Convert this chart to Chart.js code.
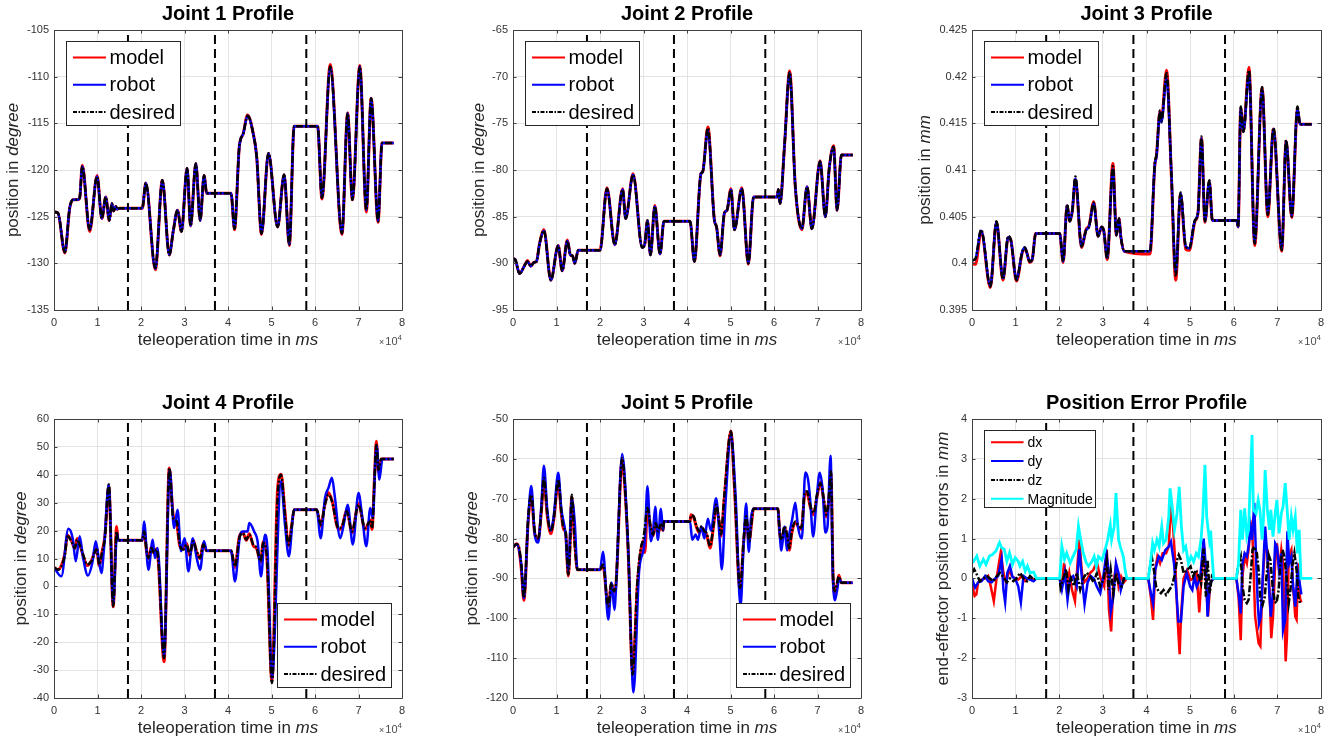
<!DOCTYPE html>
<html>
<head>
<meta charset="utf-8">
<title>Joint profiles</title>
<script src="https://cdn.jsdelivr.net/npm/chart.js@4.4.1/dist/chart.umd.min.js"></script>
<style>
  body { margin: 0; background: #fff; width: 1335px; height: 745px; position: relative; overflow: hidden; }
  canvas { position: absolute; }
</style>
</head>
<body>
<canvas id="p1"></canvas>
<canvas id="p2"></canvas>
<canvas id="p3"></canvas>
<canvas id="p4"></canvas>
<canvas id="p5"></canvas>
<canvas id="p6"></canvas>
<script>
// all times are in units of 10^4 ms (the axis shows x10^4)
const phaseBounds = [1.7, 3.7, 5.8];
const xTickLabels = ['0', '1', '2', '3', '4', '5', '6', '7', '8'];

// ---- Joint 1
const j1YTicks = ['-135', '-130', '-125', '-120', '-115', '-110', '-105'];
const j1T = [0, 0.09, 0.25, 0.36, 0.44, 0.53, 0.59, 0.65, 0.82, 0.99,
  1.10, 1.19, 1.27, 1.33, 1.37, 1.42, 1.45, 1.50, 2.03, 2.11,
  2.33, 2.49, 2.65, 2.74, 2.84, 2.93, 3.06, 3.14, 3.26, 3.36,
  3.45, 3.51, 4.07, 4.15, 4.26, 4.35, 4.45, 4.58, 4.66, 4.77,
  4.93, 5.14, 5.29, 5.41, 5.52, 6.06, 6.16, 6.35, 6.62, 6.75,
  6.86, 7.03, 7.18, 7.29, 7.45, 7.54, 7.81];
const j1Desired = [-124.5, -124.6, -128.8, -124.1, -123.2, -123.2, -123.0, -119.6, -126.4, -120.7,
  -125.2, -122.9, -125.4, -123.6, -124.4, -123.9, -124.2, -124.1, -124.1, -121.4,
  -130.5, -121.1, -129.1, -126.6, -124.3, -126.6, -119.8, -126.0, -119.3, -125.4,
  -120.6, -122.5, -122.5, -126.3, -117.5, -116.1, -114.2, -116.1, -118.6, -126.8,
  -118.2, -126.1, -120.5, -128.0, -115.3, -115.3, -123.0, -108.9, -126.8, -113.9,
  -123.2, -108.9, -124.3, -112.3, -125.5, -117.1, -117.1];
const j1Model = [-124.5, -124.6, -128.9, -124.1, -123.2, -123.2, -123.0, -119.5, -126.6, -120.6,
  -125.2, -122.9, -125.4, -123.6, -124.4, -123.9, -124.2, -124.1, -124.1, -121.4,
  -130.7, -121.1, -129.1, -126.6, -124.3, -126.6, -119.8, -126.0, -119.3, -125.4,
  -120.6, -122.5, -122.5, -126.4, -117.5, -116.1, -114.1, -116.1, -118.6, -126.9,
  -118.2, -126.1, -120.5, -128.1, -115.3, -115.3, -123.1, -108.7, -126.9, -113.9,
  -123.2, -108.8, -124.5, -112.3, -125.6, -117.1, -117.1];
const j1Robot = [-124.5, -124.6, -128.8, -124.1, -123.2, -123.2, -123.0, -119.6, -126.4, -120.7,
  -125.2, -122.9, -125.4, -123.6, -124.4, -123.9, -124.2, -124.1, -124.1, -121.4,
  -130.6, -121.1, -129.1, -126.6, -124.3, -126.6, -119.8, -126.0, -119.3, -125.4,
  -120.6, -122.5, -122.5, -126.3, -117.5, -116.1, -114.2, -116.1, -118.6, -126.8,
  -118.2, -126.1, -120.5, -128.0, -115.3, -115.3, -123.0, -109.0, -126.8, -113.9,
  -123.2, -108.9, -124.3, -112.3, -125.5, -117.1, -117.1];

// ---- Joint 2
const j2YTicks = ['-95', '-90', '-85', '-80', '-75', '-70', '-65'];
const j2T = [0, 0.05, 0.15, 0.27, 0.33, 0.41, 0.48, 0.54, 0.61, 0.71,
  0.87, 1.04, 1.13, 1.25, 1.32, 1.37, 1.42, 1.50, 2.00, 2.16,
  2.34, 2.52, 2.59, 2.76, 2.97, 3.03, 3.09, 3.16, 3.26, 3.38,
  3.47, 4.07, 4.17, 4.32, 4.36, 4.48, 4.63, 4.68, 4.76, 4.86,
  4.92, 5.01, 5.09, 5.26, 5.41, 5.53, 6.07, 6.10, 6.14, 6.24,
  6.36, 6.49, 6.64, 6.76, 6.87, 7.06, 7.18, 7.27, 7.37, 7.45,
  7.55, 7.81];
const j2Desired = [-89.5, -89.6, -91.1, -90.2, -89.8, -90.3, -89.9, -89.8, -87.9, -86.5,
  -91.8, -88.1, -90.8, -87.6, -89.1, -89.2, -90.0, -88.6, -88.6, -82.0,
  -88.0, -82.1, -85.2, -80.5, -88.3, -87.9, -85.4, -89.1, -83.9, -89.0,
  -85.5, -85.5, -89.8, -80.4, -80.2, -75.5, -85.4, -86.1, -89.1, -84.6,
  -84.3, -82.1, -86.4, -82.0, -90.0, -82.9, -82.9, -82.1, -83.6, -77.5,
  -69.5, -81.8, -86.3, -81.8, -86.3, -79.1, -85.0, -79.8, -77.5, -84.3,
  -78.4, -78.4];
const j2Model = [-89.5, -89.6, -91.1, -90.2, -89.7, -90.3, -89.9, -89.8, -87.9, -86.4,
  -91.8, -88.1, -90.8, -87.5, -89.1, -89.2, -90.0, -88.6, -88.6, -81.9,
  -88.0, -82.0, -85.2, -80.4, -88.3, -87.9, -85.4, -89.1, -83.8, -89.0,
  -85.5, -85.5, -89.8, -80.4, -80.2, -75.4, -85.4, -86.1, -89.2, -84.6,
  -84.3, -82.0, -86.4, -81.9, -90.1, -82.9, -82.9, -82.1, -83.6, -77.5,
  -69.4, -81.8, -86.4, -81.8, -86.3, -79.0, -85.0, -79.8, -77.4, -84.3,
  -78.4, -78.4];
const j2Robot = [-89.5, -89.6, -91.1, -90.2, -89.8, -90.3, -89.9, -89.8, -87.9, -86.5,
  -91.8, -88.1, -90.8, -87.6, -89.1, -89.2, -90.0, -88.6, -88.6, -82.0,
  -88.0, -82.1, -85.2, -80.5, -88.3, -87.9, -85.4, -89.1, -83.9, -89.0,
  -85.5, -85.5, -89.8, -80.4, -80.2, -75.8, -85.4, -86.1, -89.1, -84.6,
  -84.3, -82.1, -86.4, -82.0, -90.0, -82.9, -82.9, -82.1, -83.6, -77.5,
  -69.6, -81.8, -86.3, -81.8, -86.3, -79.1, -85.0, -79.8, -77.5, -84.3,
  -78.4, -78.4];

// ---- Joint 3
const j3YTicks = ['0.395', '0.4', '0.405', '0.41', '0.415', '0.42', '0.425'];
const j3T = [0, 0.08, 0.21, 0.42, 0.56, 0.71, 0.83, 0.89, 1.02, 1.15,
  1.21, 1.26, 1.32, 1.38, 1.46, 2.01, 2.09, 2.18, 2.24, 2.30,
  2.37, 2.51, 2.62, 2.68, 2.79, 2.89, 2.97, 3.02, 3.10, 3.23,
  3.31, 3.37, 3.41, 3.49, 4.08, 4.19, 4.23, 4.31, 4.34, 4.46,
  4.57, 4.67, 4.78, 4.90, 4.98, 5.11, 5.18, 5.26, 5.34, 5.44,
  5.51, 6.07, 6.10, 6.16, 6.22, 6.35, 6.48, 6.65, 6.78, 6.91,
  7.10, 7.20, 7.33, 7.46, 7.52, 7.79];
const j3Desired = [0.4003, 0.4005, 0.4036, 0.3975, 0.4045, 0.3983, 0.4029, 0.4025, 0.3982, 0.4012,
  0.4017, 0.4011, 0.4002, 0.4004, 0.4032, 0.4032, 0.4002, 0.4063, 0.4045, 0.4057,
  0.4093, 0.4018, 0.4036, 0.4039, 0.4065, 0.4029, 0.4039, 0.4035, 0.4005, 0.4104,
  0.4030, 0.4048, 0.4029, 0.4013, 0.4013, 0.4107, 0.4117, 0.4164, 0.4152, 0.4204,
  0.4096, 0.3987, 0.4076, 0.4018, 0.4016, 0.4046, 0.4054, 0.4136, 0.4045, 0.4089,
  0.4046, 0.4046, 0.4039, 0.4168, 0.4141, 0.4207, 0.4021, 0.4189, 0.4052, 0.4145,
  0.4014, 0.4132, 0.4050, 0.4168, 0.4149, 0.4149];
const j3Model = [0.4000, 0.3999, 0.4034, 0.3974, 0.4044, 0.3982, 0.4028, 0.4025, 0.3981, 0.4011,
  0.4016, 0.4011, 0.4001, 0.4004, 0.4032, 0.4032, 0.4001, 0.4062, 0.4045, 0.4056,
  0.4090, 0.4017, 0.4037, 0.4040, 0.4066, 0.4029, 0.4039, 0.4035, 0.4004, 0.4107,
  0.4030, 0.4048, 0.4029, 0.4013, 0.4010, 0.4105, 0.4116, 0.4163, 0.4153, 0.4207,
  0.4094, 0.3982, 0.4074, 0.4015, 0.4014, 0.4045, 0.4054, 0.4134, 0.4044, 0.4088,
  0.4046, 0.4046, 0.4039, 0.4166, 0.4141, 0.4210, 0.4019, 0.4188, 0.4050, 0.4144,
  0.4013, 0.4131, 0.4049, 0.4165, 0.4149, 0.4149];
const j3Robot = [0.4003, 0.4005, 0.4035, 0.3976, 0.4044, 0.3984, 0.4028, 0.4025, 0.3983, 0.4012,
  0.4017, 0.4011, 0.4002, 0.4004, 0.4032, 0.4032, 0.4002, 0.4062, 0.4045, 0.4057,
  0.4091, 0.4018, 0.4036, 0.4039, 0.4064, 0.4029, 0.4039, 0.4035, 0.4006, 0.4101,
  0.4030, 0.4048, 0.4029, 0.4013, 0.4013, 0.4105, 0.4115, 0.4162, 0.4151, 0.4198,
  0.4097, 0.3990, 0.4075, 0.4018, 0.4016, 0.4046, 0.4054, 0.4134, 0.4045, 0.4088,
  0.4046, 0.4046, 0.4039, 0.4166, 0.4141, 0.4203, 0.4022, 0.4187, 0.4053, 0.4144,
  0.4015, 0.4131, 0.4051, 0.4166, 0.4149, 0.4149];

// ---- Joint 4
const j4YTicks = ['-40', '-30', '-20', '-10', '0', '10', '20', '30', '40', '50', '60'];
const j4T = [0, 0.09, 0.17, 0.25, 0.31, 0.40, 0.48, 0.53, 0.59, 0.67,
  0.76, 0.86, 0.98, 1.04, 1.11, 1.17, 1.26, 1.36, 1.44, 1.47,
  2.03, 2.07, 2.13, 2.17, 2.24, 2.30, 2.36, 2.40, 2.53, 2.65,
  2.74, 2.82, 2.89, 2.97, 3.05, 3.12, 3.20, 3.28, 3.36, 3.43,
  3.51, 4.07, 4.16, 4.26, 4.34, 4.42, 4.49, 4.58, 4.66, 4.75,
  4.81, 4.89, 5.01, 5.14, 5.22, 5.31, 5.39, 5.47, 5.52, 6.04,
  6.13, 6.23, 6.31, 6.39, 6.54, 6.62, 6.73, 6.85, 7.00, 7.15,
  7.27, 7.31, 7.37, 7.41, 7.46, 7.52, 7.81];
const j4Desired = [6.8, 6.0, 7.2, 11.4, 18.0, 16.2, 13.8, 16.8, 15.0, 11.4,
  7.8, 9.0, 13.2, 7.8, 12.6, 17.3, 36.5, -7.1, 19.7, 16.5,
  16.5, 19.7, 12.6, 10.2, 13.8, 12.0, 13.2, 9.0, -25.7, 42.4,
  24.5, 23.3, 15.0, 13.2, 15.0, 11.4, 16.2, 12.6, 10.2, 15.0,
  12.8, 12.8, 7.2, 17.3, 19.1, 16.7, 18.5, 15.0, 13.8, 9.0,
  15.6, 11.4, -34.6, 31.7, 40.0, 25.7, 15.0, 22.1, 27.5, 27.5,
  22.1, 29.3, 32.9, 30.5, 20.9, 21.5, 26.9, 19.7, 29.3, 20.9,
  23.3, 20.9, 38.9, 50.8, 41.8, 45.7, 45.7];
const j4Model = [6.8, 6.0, 7.5, 11.8, 18.3, 16.4, 13.6, 17.2, 15.2, 11.0,
  7.5, 9.2, 13.8, 7.4, 12.8, 18.0, 36.0, -7.3, 21.5, 16.5,
  16.5, 20.2, 12.2, 10.0, 14.2, 11.8, 13.5, 8.5, -27.0, 42.4,
  25.5, 22.8, 14.6, 13.4, 15.4, 11.0, 16.6, 12.2, 10.0, 15.4,
  12.8, 12.8, 6.8, 17.8, 19.4, 16.5, 18.9, 14.6, 13.5, 8.6,
  16.0, 11.0, -34.0, 35.0, 40.2, 26.5, 14.5, 22.6, 27.5, 27.5,
  21.6, 29.8, 33.6, 30.9, 20.4, 21.2, 27.4, 19.2, 29.8, 20.4,
  23.8, 20.4, 40.0, 52.0, 41.0, 45.7, 45.7];
const j4RobotT = [0, 0.17, 0.33, 0.43, 0.50, 0.59, 0.67, 0.78, 0.88, 0.96,
  1.03, 1.09, 1.15, 1.26, 1.36, 1.45, 1.48, 2.03, 2.07, 2.17,
  2.27, 2.32, 2.38, 2.53, 2.66, 2.76, 2.84, 2.92, 3.00, 3.09,
  3.19, 3.28, 3.36, 3.45, 3.51, 4.07, 4.16, 4.28, 4.35, 4.45,
  4.49, 4.60, 4.68, 4.76, 4.85, 4.91, 5.01, 5.22, 5.31, 5.40,
  5.52, 6.04, 6.13, 6.23, 6.31, 6.39, 6.45, 6.58, 6.66, 6.75,
  6.87, 7.00, 7.08, 7.18, 7.27, 7.33, 7.39, 7.42, 7.48, 7.55,
  7.81];
const j4Robot = [6.8, 3.6, 20.7, 17.3, 9.0, 18.0, 10.2, 3.9, 8.4, 16.2,
  9.6, 4.8, 13.8, 36.5, -6.5, 19.1, 16.5, 16.5, 23.3, 6.0,
  16.7, 10.2, 13.8, -25.1, 41.8, 20.9, 27.5, 12.6, 17.3, 5.4,
  17.3, 10.2, 6.0, 16.2, 12.8, 12.8, 1.8, 18.5, 19.7, 19.7,
  22.7, 19.7, 16.2, 3.6, 18.5, 12.6, -32.8, 37.7, 22.1, 10.8,
  27.5, 27.5, 17.3, 31.7, 35.3, 38.9, 32.9, 17.3, 22.1, 29.3,
  15.0, 33.5, 25.7, 14.4, 28.1, 24.5, 46.0, 50.2, 38.3, 45.7,
  45.7];

// ---- Joint 5
const j5YTicks = ['-120', '-110', '-100', '-90', '-80', '-70', '-60', '-50'];
const j5T = [0, 0.08, 0.13, 0.19, 0.25, 0.35, 0.42, 0.50, 0.58, 0.65,
  0.71, 0.79, 0.87, 0.94, 1.04, 1.11, 1.16, 1.21, 1.27, 1.31,
  1.35, 1.42, 1.48, 2.00, 2.07, 2.19, 2.26, 2.32, 2.36, 2.51,
  2.57, 2.65, 2.75, 2.86, 2.94, 3.00, 3.03, 3.09, 3.17, 3.22,
  3.28, 3.34, 3.40, 3.45, 3.47, 4.07, 4.09, 4.15, 4.22, 4.28,
  4.34, 4.40, 4.45, 4.53, 4.61, 4.67, 4.74, 4.78, 4.86, 5.01,
  5.09, 5.22, 5.30, 5.36, 5.43, 5.47, 5.53, 6.09, 6.13, 6.18,
  6.24, 6.30, 6.35, 6.41, 6.49, 6.55, 6.63, 6.70, 6.76, 6.83,
  6.91, 6.99, 7.07, 7.14, 7.20, 7.26, 7.31, 7.36, 7.40, 7.45,
  7.49, 7.55, 7.81];
const j5Desired = [-82.2, -81.4, -81.9, -86.5, -94.9, -74.8, -69.0, -78.2, -79.9, -73.2,
  -64.8, -74.0, -78.2, -74.8, -65.2, -73.2, -77.3, -78.2, -89.0, -82.4,
  -69.0, -81.5, -87.8, -87.8, -86.5, -97.0, -91.1, -93.2, -92.0, -59.8,
  -66.5, -83.2, -114.1, -90.7, -82.4, -79.9, -77.3, -72.3, -77.3, -79.0,
  -76.1, -78.2, -76.5, -77.8, -75.7, -75.7, -74.2, -74.4, -76.9, -78.2,
  -76.9, -78.2, -78.6, -81.9, -76.5, -71.5, -75.7, -79.0, -69.0, -53.1,
  -66.5, -92.4, -80.7, -74.4, -80.7, -77.3, -72.5, -72.5, -78.2, -80.3,
  -76.9, -79.0, -82.4, -78.2, -75.7, -76.5, -77.3, -69.0, -68.1, -71.5,
  -73.6, -69.0, -66.1, -69.8, -74.0, -69.8, -63.1, -89.9, -93.2, -91.1,
  -89.5, -91.1, -91.1];
const j5Model = [-82.2, -81.3, -82.2, -87.5, -95.5, -75.3, -69.5, -78.8, -80.2, -73.5,
  -65.3, -74.5, -78.8, -75.0, -65.8, -73.6, -77.6, -78.6, -89.4, -82.0,
  -69.6, -81.0, -87.8, -87.8, -86.8, -97.5, -91.4, -93.5, -92.4, -60.2,
  -67.0, -83.8, -113.6, -91.5, -83.0, -80.5, -83.5, -73.0, -77.8, -79.3,
  -76.4, -78.5, -76.8, -78.0, -75.7, -75.7, -74.0, -74.6, -77.2, -78.6,
  -77.2, -78.5, -79.0, -82.4, -76.9, -72.0, -76.0, -79.4, -69.5, -53.0,
  -67.0, -93.0, -81.2, -74.8, -81.0, -77.6, -72.5, -72.5, -78.6, -80.8,
  -77.2, -79.4, -82.9, -78.6, -76.0, -76.9, -77.7, -69.5, -68.5, -71.9,
  -74.0, -69.4, -65.8, -70.2, -74.5, -70.2, -63.8, -90.4, -93.8, -91.6,
  -89.2, -91.1, -91.1];
const j5RobotT = [0, 0.08, 0.19, 0.25, 0.35, 0.42, 0.50, 0.58, 0.65, 0.71,
  0.79, 0.87, 0.94, 1.04, 1.11, 1.21, 1.27, 1.35, 1.42, 1.48,
  2.00, 2.07, 2.19, 2.27, 2.33, 2.37, 2.51, 2.65, 2.77, 2.90,
  3.03, 3.09, 3.17, 3.22, 3.27, 3.33, 3.40, 3.45, 3.47, 4.07,
  4.12, 4.20, 4.25, 4.33, 4.40, 4.48, 4.55, 4.67, 4.75, 4.80,
  4.88, 5.01, 5.12, 5.23, 5.30, 5.36, 5.42, 5.47, 5.53, 6.09,
  6.12, 6.17, 6.24, 6.30, 6.35, 6.42, 6.49, 6.55, 6.64, 6.72,
  6.78, 6.83, 6.90, 6.98, 7.05, 7.12, 7.18, 7.23, 7.30, 7.35,
  7.40, 7.45, 7.50, 7.55, 7.81];
const j5Robot = [-82.2, -81.4, -86.5, -95.0, -75.0, -66.8, -79.0, -81.0, -72.0, -61.7,
  -73.0, -78.0, -74.0, -63.5, -72.5, -79.0, -88.0, -70.0, -76.0, -87.8,
  -87.8, -83.3, -100.3, -91.0, -97.9, -92.0, -58.8, -83.0, -118.6, -88.0,
  -80.5, -66.9, -80.7, -78.0, -72.0, -80.3, -72.5, -78.0, -75.7, -75.7,
  -80.3, -79.0, -80.3, -77.0, -80.0, -75.0, -78.0, -69.9, -80.0, -87.7,
  -72.0, -54.0, -70.0, -97.0, -82.0, -71.2, -83.3, -75.0, -72.5, -72.5,
  -77.0, -83.0, -77.0, -83.0, -79.0, -75.0, -71.0, -77.0, -80.0, -63.4,
  -65.0, -70.0, -79.5, -70.0, -63.5, -68.0, -78.5, -77.0, -59.2, -88.0,
  -95.5, -93.0, -90.0, -91.1, -91.1];

// ---- Position error profile (mm)
const errYTicks = ['-3', '-2', '-1', '0', '1', '2', '3', '4'];
const dxT = [0, 0.03, 0.06, 0.10, 0.14, 0.22, 0.30, 0.37, 0.43, 0.50,
  0.56, 0.62, 0.66, 0.72, 0.78, 0.86, 0.91, 0.99, 1.06, 1.14,
  1.22, 1.29, 1.37, 1.48, 2.01, 2.06, 2.11, 2.17, 2.23, 2.29,
  2.36, 2.42, 2.46, 2.52, 2.57, 2.65, 2.71, 2.78, 2.86, 2.95,
  3.03, 3.09, 3.14, 3.19, 3.24, 3.30, 3.36, 3.42, 3.48, 3.55,
  4.04, 4.10, 4.15, 4.20, 4.25, 4.31, 4.37, 4.45, 4.51, 4.56,
  4.61, 4.66, 4.71, 4.76, 4.79, 4.85, 4.93, 5.01, 5.08, 5.15,
  5.21, 5.26, 5.32, 5.37, 5.41, 5.46, 5.54, 6.06, 6.11, 6.16,
  6.20, 6.25, 6.30, 6.34, 6.38, 6.42, 6.45, 6.49, 6.53, 6.57,
  6.61, 6.65, 6.68, 6.72, 6.77, 6.82, 6.86, 6.90, 6.95, 6.99,
  7.04, 7.09, 7.13, 7.19, 7.22, 7.26, 7.32, 7.36, 7.41, 7.44,
  7.48, 7.52, 7.55];
const dx = [0, -0.30, -0.44, -0.40, -0.10, -0.03, 0, 0.06, -0.20, -0.57,
  -0.03, 0.40, 0.66, 0.14, -0.10, 0.23, 0.06, 0, -0.03, 0.06,
  -0.07, 0, -0.03, 0, 0, -0.19, 0.39, -0.23, 0.14, -0.28,
  -0.57, 0.39, 0.98, 0.14, -0.10, 0, 0.14, 0.21, 0.42, 0,
  -0.20, 0.72, -0.79, -1.33, -0.12, 0.30, -0.20, 0.05, -0.10, 0,
  0, -0.46, -1.04, 0.21, 0.55, 0.38, 0.63, 0.63, 0.80, 1.88,
  1.30, 0.38, -0.96, -1.90, -0.96, 0, 0.21, -0.04, 0, 0.13,
  -0.85, 0.05, 0.80, -0.20, -0.95, -0.10, 0, 0, -0.46, -1.55,
  0.05, 0.55, 0.38, 0.72, 1.22, 1.38, 0.38, -0.96, -1.29, -1.63,
  -1.70, -0.37, 0.21, 0.88, 0.71, -0.29, -1.50, -0.96, 0.38, 0.88,
  0.21, 0.72, 0.38, -2.08, -1.46, 0.55, 0.72, -0.20, -0.96, -1.03,
  0.38, -0.50, -0.60];
const dyT = [0, 0.07, 0.14, 0.22, 0.30, 0.37, 0.45, 0.53, 0.60, 0.68,
  0.72, 0.76, 0.81, 0.87, 0.93, 0.99, 1.06, 1.12, 1.18, 1.26,
  1.33, 1.41, 1.48, 2.01, 2.06, 2.13, 2.19, 2.25, 2.32, 2.40,
  2.46, 2.52, 2.58, 2.65, 2.72, 2.79, 2.86, 2.94, 3.01, 3.08,
  3.13, 3.18, 3.24, 3.30, 3.36, 3.41, 3.48, 3.55, 4.04, 4.10,
  4.15, 4.20, 4.28, 4.35, 4.43, 4.51, 4.56, 4.63, 4.68, 4.73,
  4.79, 4.85, 4.92, 5.00, 5.05, 5.10, 5.15, 5.23, 5.31, 5.36,
  5.40, 5.45, 5.54, 6.06, 6.11, 6.16, 6.20, 6.25, 6.30, 6.34,
  6.38, 6.42, 6.47, 6.51, 6.55, 6.58, 6.62, 6.65, 6.68, 6.72,
  6.77, 6.82, 6.85, 6.90, 6.95, 6.99, 7.04, 7.09, 7.13, 7.18,
  7.23, 7.27, 7.32, 7.36, 7.41, 7.46, 7.50, 7.55];
const dy = [0, -0.23, -0.10, -0.07, 0.06, -0.07, -0.10, 0, 0.06, 0.48,
  -0.28, -0.60, 0.14, 0.31, 0.03, 0, -0.20, -0.60, 0.06, 0,
  -0.03, -0.07, 0, 0, -0.28, 0.14, -0.53, 0, 0.06, -0.19,
  0.73, 0, -0.65, -0.10, 0.06, 0, -0.20, -0.37, 0.04, 0.63,
  0.21, -0.83, -0.46, 0.38, 0.13, -0.29, 0, 0, 0, -0.37,
  -0.62, 0.21, 0.55, 0.46, 0.71, 0.80, 0.92, 0.38, -0.29, -1.08,
  -1.08, -0.20, 0.13, -0.20, -0.29, 0.05, -0.20, 0, 1.00, 0.30,
  -0.96, -0.12, 0, 0, -0.37, -0.88, 0.38, 0.63, 0.55, 0.80,
  1.30, 0.97, 1.90, 0.55, -0.62, -1.13, -0.96, -0.29, 0.38, 1.30,
  0.55, -0.46, -0.96, -0.29, 0.88, 0.80, 0.21, 0.63, -1.30, -1.04,
  1.18, 0.38, 0.55, -0.20, -0.71, 0.21, -0.04, -0.40];
const dzT = [0, 0.05, 0.11, 0.18, 0.26, 0.34, 0.41, 0.49, 0.57, 0.64,
  0.72, 0.80, 0.87, 0.95, 1.02, 1.10, 1.18, 1.26, 1.33, 1.41,
  1.48, 2.01, 2.03, 2.09, 2.16, 2.21, 2.27, 2.34, 2.40, 2.48,
  2.55, 2.63, 2.71, 2.79, 2.86, 2.94, 3.02, 3.09, 3.13, 3.18,
  3.24, 3.30, 3.36, 3.43, 3.50, 3.55, 4.04, 4.07, 4.12, 4.17,
  4.22, 4.28, 4.33, 4.39, 4.45, 4.52, 4.58, 4.64, 4.70, 4.74,
  4.79, 4.85, 4.93, 5.01, 5.07, 5.13, 5.20, 5.25, 5.31, 5.36,
  5.40, 5.45, 5.50, 5.54, 6.06, 6.11, 6.16, 6.20, 6.25, 6.30,
  6.34, 6.38, 6.43, 6.47, 6.53, 6.57, 6.61, 6.66, 6.71, 6.75,
  6.80, 6.84, 6.89, 6.94, 6.98, 7.03, 7.07, 7.12, 7.16, 7.21,
  7.26, 7.30, 7.35, 7.39, 7.44, 7.48, 7.52, 7.55];
const dz = [0.14, 0.23, 0.10, -0.07, 0, 0.06, 0, -0.07, 0.06, 0.14,
  0.03, -0.10, 0, -0.07, 0, 0.14, 0, -0.07, 0.06, -0.03,
  0, 0, -0.23, 0, 0.23, -0.28, 0, -0.19, 0.14, -0.28,
  0, 0.14, 0.05, -0.10, 0.13, -0.20, 0, 0.46, -0.29, 0.21,
  -0.37, 0.13, -0.12, -0.20, 0.04, 0, 0, 0.21, 0.55, 0.21,
  -0.20, -0.33, -0.37, -0.29, -0.41, -0.29, -0.20, 0.05, 0.46, 0.59,
  0.46, 0.13, 0.21, 0.30, 0.05, 0.21, 0.05, -0.12, 0.75, -0.46,
  0.46, -0.37, 0.05, 0, 0, 0.38, 0.55, -0.20, -0.54, -0.62,
  -0.54, -0.04, 0.72, 0.80, 0.63, 0.21, -0.54, -0.67, -0.46, 0.05,
  0.59, 0.46, -0.20, -0.58, -0.62, -0.29, 0.38, 0.72, 0.55, 0.05,
  -0.62, -0.29, 0.38, 0.63, 0.21, -0.46, -0.62, -0.60];
const magT = [0, 0.03, 0.11, 0.18, 0.26, 0.32, 0.40, 0.47, 0.55, 0.63,
  0.68, 0.74, 0.80, 0.86, 0.93, 0.99, 1.06, 1.10, 1.16, 1.22,
  1.27, 1.33, 1.41, 1.48, 2.01, 2.06, 2.12, 2.17, 2.25, 2.32,
  2.39, 2.44, 2.49, 2.55, 2.62, 2.67, 2.75, 2.80, 2.85, 2.90,
  2.98, 3.05, 3.11, 3.17, 3.20, 3.26, 3.30, 3.36, 3.41, 3.47,
  3.51, 3.55, 4.04, 4.09, 4.14, 4.18, 4.24, 4.29, 4.35, 4.39,
  4.45, 4.51, 4.54, 4.59, 4.64, 4.70, 4.75, 4.80, 4.85, 4.90,
  4.96, 5.02, 5.08, 5.14, 5.19, 5.25, 5.29, 5.34, 5.38, 5.44,
  5.47, 5.50, 5.54, 6.06, 6.11, 6.16, 6.20, 6.25, 6.30, 6.34,
  6.38, 6.42, 6.45, 6.51, 6.56, 6.60, 6.65, 6.68, 6.72, 6.77,
  6.82, 6.85, 6.90, 6.95, 6.99, 7.04, 7.09, 7.13, 7.18, 7.23,
  7.27, 7.32, 7.36, 7.41, 7.46, 7.50, 7.54, 7.80];
const magnitude = [0.40, 0.42, 0.56, 0.31, 0.48, 0.35, 0.56, 0.60, 0.69, 0.90,
  0.77, 0.73, 0.43, 0.64, 0.35, 0.52, 0.43, 0.31, 0.43, 0.18,
  0.31, 0.14, 0.16, 0, 0, 0.81, 0.48, 0.64, 0.39, 0.56,
  0.73, 1.31, 0.98, 0.64, 0.39, 0.31, 0.43, 0.55, 0.30, 0.55,
  0.46, 0.72, 0.97, 1.34, 0.97, 1.30, 2.14, 0.97, 0.76, 0.55,
  0.21, 0, 0, 0.38, 0.88, 0.71, 0.97, 0.80, 1.30, 0.88,
  0.97, 1.55, 2.26, 1.80, 1.22, 1.63, 2.30, 1.30, 0.71, 0.80,
  0.38, 0.55, 0.42, 0.63, 0.55, 0.97, 1.55, 2.85, 1.55, 0.97,
  1.20, 0.63, 0, 0, 0.38, 1.72, 0.97, 1.76, 1.05, 1.22,
  2.47, 3.60, 1.72, 1.63, 1.97, 1.72, 0.97, 1.47, 2.72, 1.72,
  1.22, 1.72, 1.05, 1.63, 1.97, 1.13, 1.63, 1.80, 2.39, 1.63,
  0.97, 1.55, 1.22, 1.55, 0.63, 1.22, 0, 0];

const FONT = '"Liberation Sans", Arial, Helvetica, sans-serif';
const TEXT = '#262626';
Chart.defaults.font.family = FONT;

const DESIRED_DASH = [7, 2, 2, 2];

function jointSeries(t, model, robotT, robot, desired) {
  return [
    { label: 'model', t: t, v: model, color: '#ff0000', width: 3, dash: [], order: 3 },
    { label: 'robot', t: robotT, v: robot, color: '#0000ff', width: 2.5, dash: [], order: 2 },
    { label: 'desired', t: t, v: desired, color: '#000000', width: 2.5, dash: DESIRED_DASH, order: 1 }
  ];
}

const bigLegendNW = { corner: 'nw', size: 20, w: 114, h: 84, dx: 11.5, dy: 10.7, first: 16.6, step: 27.2, x0: 7, x1: 40, tx: 43.5 };
const bigLegendSE = { corner: 'se', size: 20, w: 114, h: 84, dx: 11.5, dy: 10.7, first: 16.6, step: 27.2, x0: 7, x1: 40, tx: 43.5 };
const smallLegend = { corner: 'nw', size: 14, w: 111, h: 77, dx: 11.7, dy: 11, first: 12.3, step: 18.8, x0: 7, x1: 39.5, tx: 43.5 };

const posLabel = (unit) => [['position in ', false], [unit, true]];

const panels = [
  { id: 'p1', left: 54, top: 30, w: 348, h: 280, title: 'Joint 1 Profile', yMin: -135, yMax: -105, yStep: 5,
    yTicks: j1YTicks, yLabel: posLabel('degree'), yLabelX: 18, legend: bigLegendNW, smooth: true,
    series: jointSeries(j1T, j1Model, j1T, j1Robot, j1Desired) },
  { id: 'p2', left: 513, top: 30, w: 348, h: 280, title: 'Joint 2 Profile', yMin: -95, yMax: -65, yStep: 5,
    yTicks: j2YTicks, yLabel: posLabel('degree'), yLabelX: 484, legend: bigLegendNW, smooth: true,
    series: jointSeries(j2T, j2Model, j2T, j2Robot, j2Desired) },
  { id: 'p3', left: 972, top: 30, w: 349, h: 280, title: 'Joint 3 Profile', yMin: 0.395, yMax: 0.425, yStep: 0.005,
    yTicks: j3YTicks, yLabel: posLabel('mm'), yLabelX: 930, legend: bigLegendNW, smooth: true,
    series: jointSeries(j3T, j3Model, j3T, j3Robot, j3Desired) },
  { id: 'p4', left: 54, top: 419, w: 348, h: 279, title: 'Joint 4 Profile', yMin: -40, yMax: 60, yStep: 10,
    yTicks: j4YTicks, yLabel: posLabel('degree'), yLabelX: 26, legend: bigLegendSE, smooth: true,
    series: jointSeries(j4T, j4Model, j4RobotT, j4Robot, j4Desired) },
  { id: 'p5', left: 513, top: 419, w: 348, h: 279, title: 'Joint 5 Profile', yMin: -120, yMax: -50, yStep: 10,
    yTicks: j5YTicks, yLabel: posLabel('degree'), yLabelX: 477, legend: bigLegendSE, smooth: true,
    series: jointSeries(j5T, j5Model, j5RobotT, j5Robot, j5Desired) },
  { id: 'p6', left: 972, top: 419, w: 349, h: 279, title: 'Position Error Profile', yMin: -3, yMax: 4, yStep: 1,
    yTicks: errYTicks, yLabel: [['end-effector position errors in ', false], ['mm', true]], yLabelX: 948,
    legend: smallLegend, smooth: false,
    series: [
      { label: 'dx', t: dxT, v: dx, color: '#ff0000', width: 2.5, dash: [], order: 4 },
      { label: 'dy', t: dyT, v: dy, color: '#0000ff', width: 2.5, dash: [], order: 3 },
      { label: 'dz', t: dzT, v: dz, color: '#000000', width: 2.5, dash: DESIRED_DASH, order: 2 },
      { label: 'Magnitude', t: magT, v: magnitude, color: '#00ffff', width: 2.8, dash: [], order: 1 }
    ] }
];
const panelById = {};
panels.forEach(p => { panelById[p.id] = p; });

// text with a normal part and an italic part, centred on x
function mixedText(ctx, parts, x, y, size) {
  const fonts = parts.map(([, it]) => (it ? 'italic ' : '') + size + 'px ' + FONT);
  let total = 0;
  const widths = parts.map(([s], i) => {
    ctx.font = fonts[i];
    const w = ctx.measureText(s).width;
    total += w;
    return w;
  });
  let cx = x - total / 2;
  ctx.textAlign = 'left';
  parts.forEach(([s], i) => {
    ctx.font = fonts[i];
    ctx.fillText(s, cx, y);
    cx += widths[i];
  });
}

function drawLegend(ctx, a, p) {
  const lg = p.legend;
  const items = p.series;
  let bx, by;
  if (lg.corner === 'nw') {
    bx = a.left + lg.dx; by = a.top + lg.dy;
  } else {
    bx = a.right - lg.dx - lg.w; by = a.bottom - lg.dy - lg.h;
  }
  bx = Math.round(bx); by = Math.round(by);
  ctx.fillStyle = '#fff';
  ctx.fillRect(bx, by, lg.w, lg.h);
  ctx.strokeStyle = TEXT;
  ctx.lineWidth = 1;
  ctx.strokeRect(bx + 0.5, by + 0.5, lg.w, lg.h);
  items.forEach((it, i) => {
    const cy = by + lg.first + i * lg.step;
    ctx.beginPath();
    ctx.setLineDash(it.dash.length ? [4, 1.5, 1.5, 1.5] : []);
    ctx.strokeStyle = it.color;
    ctx.lineWidth = 2;
    ctx.moveTo(bx + lg.x0, cy);
    ctx.lineTo(bx + lg.x1, cy);
    ctx.stroke();
    ctx.setLineDash([]);
    ctx.fillStyle = '#000';
    ctx.font = lg.size + 'px ' + FONT;
    ctx.textAlign = 'left';
    ctx.textBaseline = 'middle';
    ctx.fillText(it.label, bx + lg.tx, cy + 1);
  });
}

const decorPlugin = {
  id: 'decor',
  afterDraw(chart) {
    const p = panelById[chart.canvas.id];
    const ctx = chart.ctx;
    const a = chart.chartArea;
    const xs = chart.scales.x, ys = chart.scales.y;
    ctx.save();

    // axes box and inward ticks
    ctx.strokeStyle = '#404040';
    ctx.lineWidth = 1;
    ctx.beginPath();
    ctx.rect(Math.round(a.left) + 0.5, Math.round(a.top) + 0.5, Math.round(a.right - a.left), Math.round(a.bottom - a.top));
    xs.ticks.forEach(t => {
      const px = Math.round(xs.getPixelForValue(t.value)) + 0.5;
      ctx.moveTo(px, a.bottom); ctx.lineTo(px, a.bottom - 3.5);
      ctx.moveTo(px, a.top); ctx.lineTo(px, a.top + 3.5);
    });
    ys.ticks.forEach(t => {
      const py = Math.round(ys.getPixelForValue(t.value)) + 0.5;
      ctx.moveTo(a.left, py); ctx.lineTo(a.left + 3.5, py);
      ctx.moveTo(a.right, py); ctx.lineTo(a.right - 3.5, py);
    });
    ctx.stroke();

    // title
    ctx.fillStyle = '#000';
    ctx.font = 'bold 20px ' + FONT;
    ctx.textAlign = 'center';
    ctx.textBaseline = 'alphabetic';
    ctx.fillText(p.title, (a.left + a.right) / 2, a.top - 10);

    // x label
    ctx.fillStyle = TEXT;
    mixedText(ctx, [['teleoperation time in ', false], ['ms', true]], (a.left + a.right) / 2, a.bottom + 35, 17);

    // y label
    ctx.save();
    ctx.translate(p.yLabelX - (p.left - 54), (a.top + a.bottom) / 2);
    ctx.rotate(-Math.PI / 2);
    mixedText(ctx, p.yLabel, 0, 0, 17);
    ctx.restore();

    // x10^4 exponent
    ctx.textAlign = 'right';
    ctx.fillStyle = '#4d4d4d';
    const ey = a.bottom + 35;
    ctx.font = '8px ' + FONT;
    ctx.fillText('4', a.right, ey - 5);
    const w4 = ctx.measureText('4').width;
    ctx.font = '11px ' + FONT;
    ctx.fillText('10', a.right - w4, ey);
    const w10 = ctx.measureText('10').width;
    ctx.font = '9px ' + FONT;
    ctx.fillText('\u00d7', a.right - w4 - w10 - 1, ey);

    drawLegend(ctx, a, p);
    ctx.restore();
  }
};

panels.forEach(p => {
  const cv = document.getElementById(p.id);
  const W = 54 + p.w + 30, H = 30 + p.h + 45;
  cv.width = W; cv.height = H;
  cv.style.width = W + 'px'; cv.style.height = H + 'px';
  cv.style.left = (p.left - 54) + 'px';
  cv.style.top = (p.top - 30) + 'px';

  const datasets = p.series.map(s => ({
    label: s.label,
    data: s.t.map((x, i) => ({ x: x, y: s.v[i] })),
    borderColor: s.color,
    backgroundColor: s.color,
    borderWidth: s.width,
    borderDash: s.dash,
    pointRadius: 0,
    fill: false,
    order: s.order,
    tension: 0,
    cubicInterpolationMode: p.smooth ? 'monotone' : 'default'
  }));
  phaseBounds.forEach(b => {
    datasets.push({
      label: 'phase',
      data: [{ x: b, y: p.yMin }, { x: b, y: p.yMax }],
      borderColor: '#000',
      borderWidth: 2,
      borderDash: [9, 5],
      pointRadius: 0,
      fill: false,
      order: 0
    });
  });

  new Chart(cv, {
    type: 'line',
    data: { datasets: datasets },
    options: {
      responsive: false,
      animation: false,
      devicePixelRatio: 1,
      events: [],
      layout: { padding: { left: 0, top: 30, right: 30, bottom: 0 } },
      plugins: { legend: { display: false }, title: { display: false }, tooltip: { enabled: false } },
      scales: {
        x: {
          type: 'linear', min: 0, max: 8,
          afterFit: s => { s.height = 45; },
          grid: { color: '#e3e3e3', drawTicks: false },
          border: { display: false },
          ticks: { stepSize: 1, autoSkip: false, maxRotation: 0, padding: 6, color: '#333',
            font: { size: 11, family: FONT }, callback: (v, i) => xTickLabels[i] }
        },
        y: {
          type: 'linear', min: p.yMin, max: p.yMax,
          afterFit: s => { s.width = 54; },
          grid: { color: '#e3e3e3', drawTicks: false },
          border: { display: false },
          ticks: { stepSize: p.yStep, autoSkip: false, padding: 5, color: '#333',
            font: { size: 11, family: FONT }, callback: (v, i) => p.yTicks[i] }
        }
      }
    },
    plugins: [decorPlugin]
  });
});
</script>
</body>
</html>
